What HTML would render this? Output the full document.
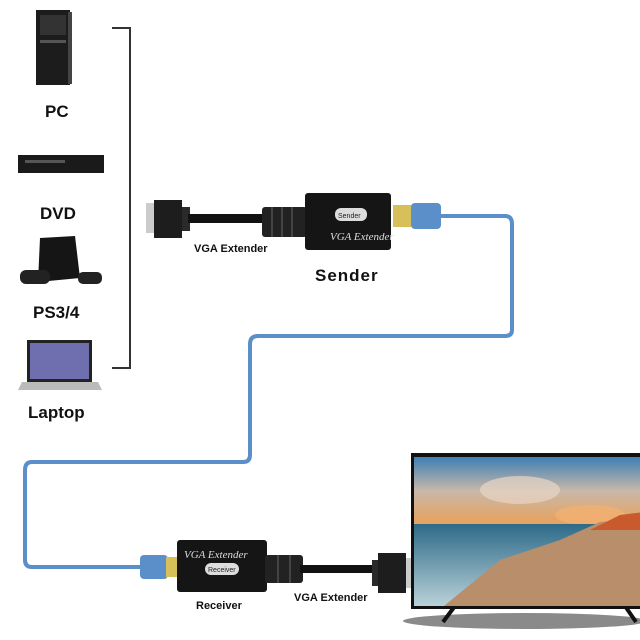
<!DOCTYPE html>
<html><head><meta charset="utf-8"><style>
html,body{margin:0;padding:0;background:#fff;}
svg{display:block;font-family:"Liberation Sans",sans-serif;}
</style></head><body>
<svg width="640" height="640" viewBox="0 0 640 640" xmlns="http://www.w3.org/2000/svg">
<defs>
<linearGradient id="sky" x1="0" y1="0" x2="0" y2="1">
<stop offset="0" stop-color="#3d7fb5"/><stop offset="0.5" stop-color="#c9b8a8"/><stop offset="1" stop-color="#e9a05a"/>
</linearGradient>
<linearGradient id="sea" x1="0" y1="0" x2="0" y2="1">
<stop offset="0" stop-color="#2d6a88"/><stop offset="1" stop-color="#b9d1d8"/>
</linearGradient>
</defs>
<rect width="640" height="640" fill="#fff"/>
<!-- PC -->
<rect x="36" y="10" width="34" height="75" fill="#1c1c1c"/>
<rect x="40" y="15" width="26" height="20" fill="#333"/>
<rect x="40" y="40" width="26" height="3" fill="#555"/>
<rect x="68" y="12" width="4" height="72" fill="#444"/>
<text x="45" y="117" font-size="17" font-weight="bold" fill="#111">PC</text>
<!-- DVD -->
<rect x="18" y="155" width="86" height="18" fill="#1a1a1a"/>
<rect x="25" y="160" width="40" height="3" fill="#555"/>
<text x="40" y="219" font-size="17" font-weight="bold" fill="#111">DVD</text>
<!-- PS4 -->
<polygon points="40,238 75,236 80,278 38,282" fill="#151515"/>
<rect x="20" y="270" width="30" height="14" rx="6" fill="#222"/>
<rect x="78" y="272" width="24" height="12" rx="5" fill="#222"/>
<text x="33" y="318" font-size="17" font-weight="bold" fill="#111">PS3/4</text>
<!-- Laptop -->
<rect x="27" y="340" width="65" height="42" fill="#222"/>
<rect x="30" y="343" width="59" height="36" fill="#6f6fb0"/>
<polygon points="22,382 98,382 102,390 18,390" fill="#bbb"/>
<text x="28" y="418" font-size="17" font-weight="bold" fill="#111">Laptop</text>
<!-- bracket -->
<path d="M112,28 H130 V368 H112" fill="none" stroke="#333" stroke-width="2"/>
<!-- blue cable -->
<path d="M440,216 H505 Q512,216 512,224 V330 Q512,336 505,336 H258 Q250,336 250,344 V455 Q250,462 243,462 H32 Q25,462 25,470 V560 Q25,567 32,567 H145" fill="none" stroke="#5b8fc9" stroke-width="4"/>
<!-- sender -->
<rect x="146" y="203" width="8" height="30" fill="#ccc"/>
<rect x="154" y="200" width="28" height="38" fill="#1d1d1d"/>
<rect x="182" y="207" width="8" height="24" fill="#2a2a2a"/>
<rect x="188" y="214" width="75" height="9" fill="#111"/>
<rect x="262" y="207" width="45" height="30" rx="3" fill="#222"/>
<g stroke="#444" stroke-width="2"><line x1="272" y1="207" x2="272" y2="237"/><line x1="282" y1="207" x2="282" y2="237"/><line x1="292" y1="207" x2="292" y2="237"/></g>
<rect x="305" y="193" width="86" height="57" rx="3" fill="#151515"/>
<rect x="335" y="208" width="32" height="13" rx="6" fill="#ddd"/>
<text x="338" y="218" font-size="7" fill="#222">Sender</text>
<text x="330" y="240" font-size="11" font-style="italic" font-family="Liberation Serif,serif" fill="#ddd">VGA Extender</text>
<rect x="393" y="205" width="20" height="22" fill="#d7c05a"/>
<rect x="411" y="203" width="30" height="26" rx="4" fill="#5b8fc9"/>
<text x="194" y="252" font-size="11" font-weight="bold" fill="#111">VGA Extender</text>
<text x="315" y="281" font-size="17" font-weight="bold" fill="#111" letter-spacing="1">Sender</text>
<!-- receiver -->
<rect x="140" y="555" width="28" height="24" rx="4" fill="#5b8fc9"/>
<rect x="166" y="557" width="14" height="20" fill="#d7c05a"/>
<rect x="177" y="540" width="90" height="52" rx="3" fill="#151515"/>
<text x="184" y="558" font-size="11" font-style="italic" font-family="Liberation Serif,serif" fill="#ddd">VGA Extender</text>
<rect x="205" y="563" width="34" height="12" rx="6" fill="#ddd"/>
<text x="208" y="572" font-size="7" fill="#222">Receiver</text>
<rect x="265" y="555" width="38" height="28" rx="3" fill="#222"/>
<g stroke="#444" stroke-width="2"><line x1="278" y1="555" x2="278" y2="583"/><line x1="290" y1="555" x2="290" y2="583"/></g>
<rect x="300" y="565" width="75" height="8" fill="#111"/>
<rect x="372" y="560" width="8" height="26" fill="#2a2a2a"/>
<rect x="378" y="553" width="28" height="40" fill="#1d1d1d"/>
<rect x="406" y="558" width="6" height="30" fill="#ccc"/>
<text x="196" y="609" font-size="11" font-weight="bold" fill="#111">Receiver</text>
<text x="294" y="601" font-size="11" font-weight="bold" fill="#111">VGA Extender</text>
<!-- TV -->
<ellipse cx="525" cy="621" rx="122" ry="8" fill="#8a8a8a"/>
<line x1="455" y1="606" x2="443" y2="622" stroke="#111" stroke-width="4"/>
<line x1="625" y1="606" x2="636" y2="622" stroke="#111" stroke-width="4"/>
<rect x="411" y="453" width="235" height="156" fill="#111"/>
<rect x="414" y="457" width="230" height="68" fill="url(#sky)"/>
<ellipse cx="520" cy="490" rx="40" ry="14" fill="#e8d6c6" opacity="0.7"/>
<ellipse cx="590" cy="515" rx="35" ry="10" fill="#f2b070" opacity="0.8"/>
<rect x="414" y="524" width="230" height="82" fill="url(#sea)"/>
<polygon points="444,606 500,560 560,540 600,522 644,518 644,606" fill="#b98e6a"/>
<polygon points="590,530 620,515 644,512 644,530" fill="#c85a2e"/>
</svg>
</body></html>
